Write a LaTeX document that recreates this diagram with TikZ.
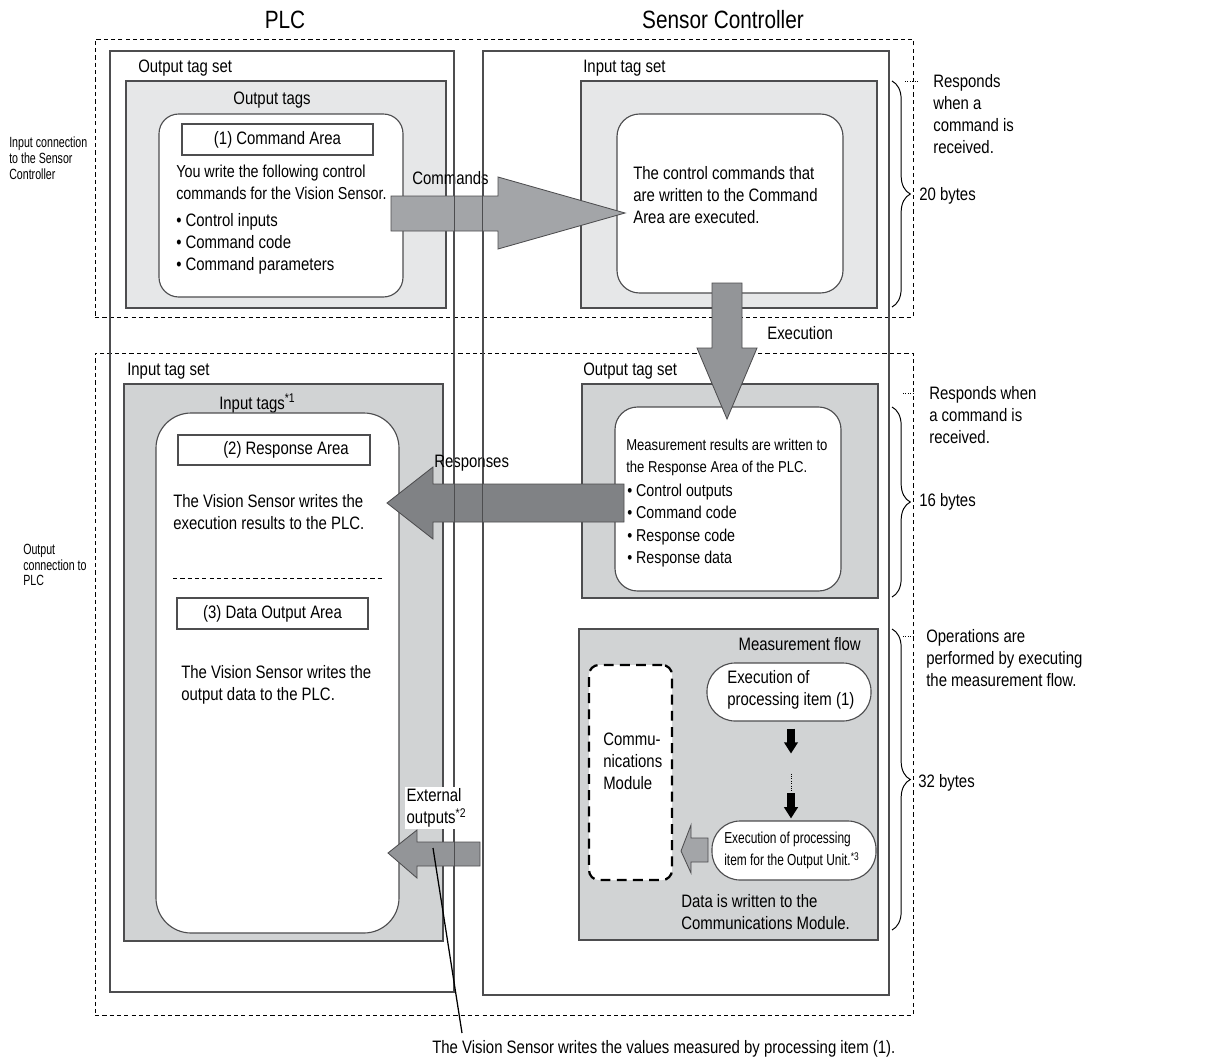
\documentclass[tikz,border=0pt]{standalone}
\usepackage{fontspec}
\setmainfont{Liberation Sans}[FakeStretch=0.83]
\newfontfamily\narrowfont{Liberation Sans}[FakeStretch=0.72]
\newfontfamily\condfont{Liberation Sans}[FakeStretch=0.75]
\usepackage{xcolor}
\usepackage{tikz}
\usetikzlibrary{arrows.meta, positioning, calc, fit, decorations.pathreplacing}
\definecolor{boxline}{HTML}{4D4D4F}
\definecolor{tagsetlight}{HTML}{E6E7E8}
\definecolor{tagsetdark}{HTML}{D1D3D4}
\definecolor{arrowlight}{HTML}{A3A5A8}
\definecolor{arrowmid}{HTML}{939598}
\definecolor{arrowdark}{HTML}{808285}
\tikzset{
  zone/.style={draw, dash pattern=on 3pt off 2.2pt, line width=0.5pt, inner sep=0pt},
  device/.style={draw=boxline, line width=0.8pt, inner sep=0pt},
  tagbox/.style={draw=boxline, line width=0.8pt, inner sep=0pt},
  areabox/.style={draw=boxline, fill=white, line width=0.8pt, inner sep=0pt},
  roundbox/.style={draw=boxline, fill=white, line width=0.8pt, inner sep=0pt, rounded corners=14pt},
  commbox/.style={draw=black, fill=white, line width=1.6pt, dash pattern=on 7pt off 4.5pt, rounded corners=7pt, inner sep=0pt},
  note/.style={inner sep=0pt, align=left, anchor=north west},
  bigarrow/.style={draw=boxline, line width=0.6pt, line join=miter},
  flowarrow/.style={line width=5pt, -{Triangle[width=9.5pt, length=8pt]}},
  sizebrace/.style={decorate, decoration={brace, amplitude=13pt}, line width=0.7pt},
  leader/.style={densely dotted, line width=0.7pt},
  callout/.style={line width=0.9pt}
}
\newcommand{\fnmark}[1]{\textsuperscript{*#1}}

\begin{document}
\begin{tikzpicture}[x=0.025cm, y=-0.025cm, font=\fontsize{12.8}{15.6}\selectfont]
        \fill[white] (0,0) rectangle (1228,1059);
        \useasboundingbox (0,0) rectangle (1228,1059);

        % Titles
        \node[font=\fontsize{17.8}{20}\selectfont] (plctitle) at (285,20) {PLC};
        \node[font=\fontsize{17.8}{20}\selectfont] (sctitle)  at (723,20) {Sensor Controller};

        % Connection zones
        \node[zone, fit={(95,39) (913,317)}]  (inzone)  {};
        \node[zone, fit={(95,353) (913,1015)}] (outzone) {};
        \node[note, font=\narrowfont\fontsize{10.5}{11.1}\selectfont] (inzonelbl)  at (9,137)  {Input connection\\to the Sensor\\Controller};
        \node[note, font=\narrowfont\fontsize{10.5}{11.1}\selectfont] (outzonelbl) at (23,544) {Output\\connection to\\PLC};

        % Devices
        \node[device, fit={(110,51) (454,992)}] (plc) {};
        \node[device, fit={(483,51) (889,995)}] (sc)  {};

        % PLC output tag set
        \node[note] (plcouttagset) at (138,60) {Output tag set};
        \node[tagbox, fill=tagsetlight, fit={(126,81) (446,308)}] (outtags) {};
        \node[note, anchor=north] (outtagslbl) at (272,92) {Output tags};
        \node[roundbox, fit={(159,114) (403,297)}] (cmdround) {};
        \node[areabox, fit={(182,124) (373,155)}, label=center:{(1) Command Area}] (cmdarea) {};
        \node[note, font=\fontsize{12.3}{15.6}\selectfont] (cmdtext) at (176,165) {You write the following control\\commands for the Vision Sensor.};
        \node[note] (cmdlist) at (176,213) {• Control inputs\\• Command code\\• Command parameters};

        % Sensor Controller input tag set
        \node[note] (scintagset) at (583,60) {Input tag set};
        \node[tagbox, fill=tagsetlight, fit={(581,81) (877,308)}] (intagssc) {};
        \node[roundbox, rounded corners=16pt, fit={(617,114) (843,293)}] (execround) {};
        \node[note] (exectext) at (633,166) {The control commands that\\are written to the Command\\Area are executed.};

        % PLC input tag set
        \node[note] (plcintagset) at (127,363) {Input tag set};
        \node[tagbox, fill=tagsetdark, fit={(124,384) (443,941)}] (intags) {};
        \node[note] (intagslbl) at (219,394) {Input tags\fnmark{1}};
        \node[roundbox, rounded corners=25pt, fit={(156,413) (399,933)}] (respround) {};
        \node[areabox, fit={(178,435) (370,465)}, label={[xshift=8.5pt]center:{(2) Response Area}}] (resparea) {};
        \node[note] (resptext) at (173,494) {The Vision Sensor writes the\\execution results to the PLC.};
        \draw[dash pattern=on 3pt off 2.2pt, line width=0.5pt] (173,578) -- (383,578);
        \node[areabox, fit={(177,598) (368,629)}, label=center:{(3) Data Output Area}] (dataarea) {};
        \node[note] (datatext) at (181,665) {The Vision Sensor writes the\\output data to the PLC.};

        % Sensor Controller output tag set
        \node[note] (scouttagset) at (583,363) {Output tag set};
        \node[tagbox, fill=tagsetdark, fit={(582,384) (878,598)}] (outtagssc) {};
        \node[roundbox, rounded corners=16pt, fit={(615,407) (841,591)}] (measround) {};
        \node[note, font=\fontsize{11.2}{15.8}\selectfont] (meastext) at (626,439) {Measurement results are written to\\the Response Area of the PLC.};
        \node[note, font=\fontsize{12.2}{15.8}\selectfont] (measlist) at (627,484) {• Control outputs\\• Command code\\• Response code\\• Response data};

        % Measurement flow
        \node[tagbox, fill=tagsetdark, fit={(579,629) (878,940)}] (flow) {};
        \node[note, anchor=north east] (flowlbl) at (861,637) {Measurement flow};
        \node[commbox, fit={(589,665) (672,880)}] (comms) {};
        \node[note] (commslbl) at (603,733) {Commu-\\nications\\Module};
        \node[roundbox, rounded corners=20pt, fit={(707,663) (871,721)}] (item1) {};
        \node[note] (item1lbl) at (727,670) {Execution of\\processing item (1)};
        \node[roundbox, rounded corners=20pt, fit={(712,821) (876,880)}] (itemout) {};
        \node[note, font=\condfont\fontsize{11.3}{15.6}\selectfont] (itemoutlbl) at (724,832) {Execution of processing\\item for the Output Unit.\fnmark{3}};
        \node[note] (flowtext) at (681,894) {Data is written to the\\Communications Module.};
        \draw[flowarrow] ($(item1.south)+(2,7)$) -- ++(0,25);
        \draw[leader] ($(item1.south)+(2,52)$) -- ++(0,19);
        \draw[flowarrow] ($(itemout.north)+(-3,-27)$) -- ++(0,25);

        % Block arrows
        \draw[bigarrow, fill=arrowlight] (391,196) -- (498,196) -- (498,177) -- (625,213) -- (498,249) -- (498,231) -- (391,231) -- cycle;
        \node[note] (cmdslbl) at (412,171) {Commands};
        \draw[bigarrow, fill=arrowmid] (712,283) -- (742,283) -- (742,348) -- (757,348) -- (727,419) -- (697,348) -- (712,348) -- cycle;
        \node[note] (execlbl) at (767,326) {Execution};
        \draw[bigarrow, fill=arrowdark] (624,484) -- (433,484) -- (433,467) -- (387,503) -- (433,539) -- (433,522) -- (624,522) -- cycle;
        \node[note] (respslbl) at (434,455) {Responses};
        \draw[bigarrow, fill=arrowmid] (480,842) -- (417,842) -- (417,830) -- (388,853) -- (417,878) -- (417,866) -- (480,866) -- cycle;
        \draw[bigarrow, fill=arrowlight] (708,838) -- (691,838) -- (691,825) -- (681,851) -- (691,873) -- (691,862) -- (708,862) -- cycle;

        % Device outlines on top
        \draw[device] (plc.north west) rectangle (plc.south east);
        \draw[device] (sc.north west) rectangle (sc.south east);

        % External outputs
        \node[note, fill=white, inner sep=1pt] (extlbl) at (405,787) {External\\outputs\fnmark{2}};
        \coordinate (extpt) at (433,848);
        \node[note] (caption) at (432,1040) {The Vision Sensor writes the values measured by processing item (1).};
        \draw[callout] (extpt) -- ($(caption.north west)+(30,-7)$);

        % Sizes
        \draw[sizebrace] (892,81) -- (892,307);
        \draw[leader] (905,81) -- (917,81);
        \node[note] (note20) at (933,74) {Responds\\when a\\command is\\received.};
        \node[anchor=west, inner sep=0pt] (bytes20) at (919,196) {20 bytes};

        \draw[sizebrace] (892,407) -- (892,597);
        \draw[leader] (903,393) -- (913,393);
        \node[note] (note16) at (929,386) {Responds when\\a command is\\received.};
        \node[anchor=west, inner sep=0pt] (bytes16) at (919,502) {16 bytes};

        \draw[sizebrace] (892,629) -- (892,930);
        \draw[leader] (903,636) -- (913,636);
        \node[note] (note32) at (926,629) {Operations are\\performed by executing\\the measurement flow.};
        \node[anchor=west, inner sep=0pt] (bytes32) at (918,783) {32 bytes};
    \end{tikzpicture}
\end{document}
